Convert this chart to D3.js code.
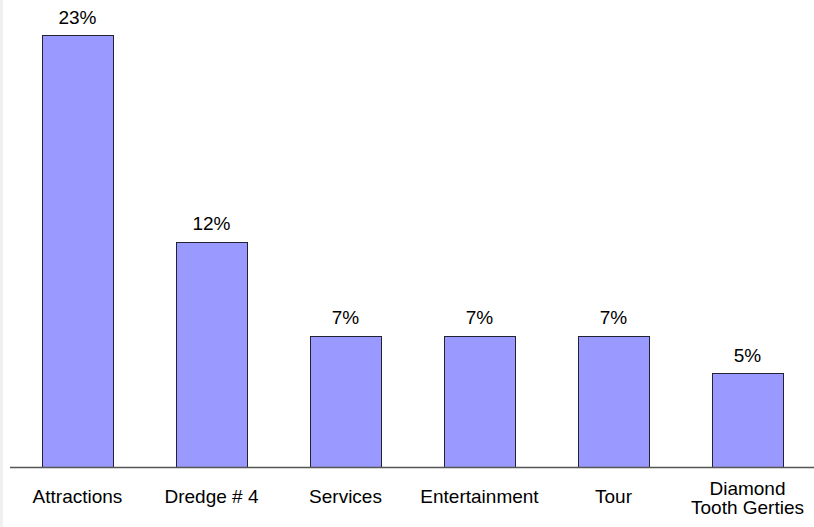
<!DOCTYPE html>
<html>
<head>
<meta charset="utf-8">
<script src="https://cdn.jsdelivr.net/npm/d3@7"></script>
<style>
  html, body { margin: 0; padding: 0; background: #ffffff; }
  svg { display: block; }
  text { font-family: "Liberation Sans", Arial, sans-serif; fill: #000; }
</style>
</head>
<body>
<svg id="chart" width="814" height="527"></svg>
<script>
// Share of responses by category
const categories = ["Attractions", "Dredge # 4", "Services", "Entertainment", "Tour", "Diamond Tooth Gerties"];
const categoryLines = [["Attractions"], ["Dredge # 4"], ["Services"], ["Entertainment"], ["Tour"], ["Diamond", "Tooth Gerties"]];
const values = [23, 12, 7, 7, 7, 5];
const valueLabels = ["23%", "12%", "7%", "7%", "7%", "5%"];

const W = 814, H = 527;
const svg = d3.select("#chart");

// thin grey strip on the left edge
svg.append("rect").attr("x", 0).attr("y", 0).attr("width", 3).attr("height", H).attr("fill", "#f0f0f0");

const baseY = 467.5;
const x = d3.scaleBand().domain(categories).range([10.5, 814.5]).paddingInner(0.47).paddingOuter(0.235);
const y = d3.scaleLinear().domain([0, 23]).range([baseY, 35]);

const data = categories.map((c, i) => ({ c, v: values[i], label: valueLabels[i], lines: categoryLines[i] }));

// bars
svg.append("g").selectAll("rect").data(data).join("rect")
  .attr("x", d => Math.round(x(d.c)) + 0.5)
  .attr("y", d => Math.round(y(d.v)) + 0.5)
  .attr("width", Math.round(x.bandwidth()))
  .attr("height", d => baseY - Math.round(y(d.v)) - 0.5)
  .attr("fill", "#9999ff")
  .attr("stroke", "#222233")
  .attr("stroke-width", 1);

// baseline
svg.append("line")
  .attr("x1", 10).attr("x2", W)
  .attr("y1", baseY).attr("y2", baseY)
  .attr("stroke", "#555").attr("stroke-width", 1.3);

// value labels above bars
svg.append("g").selectAll("text").data(data).join("text")
  .attr("x", d => x(d.c) + x.bandwidth() / 2)
  .attr("y", d => y(d.v) - 11.5)
  .attr("text-anchor", "middle")
  .attr("font-size", "19px")
  .text(d => d.label);

// category labels
const cat = svg.append("g").selectAll("text").data(data).join("text")
  .attr("text-anchor", "middle")
  .attr("font-size", "19px")
  .attr("x", d => x(d.c) + x.bandwidth() / 2)
  .attr("y", d => d.lines.length === 1 ? 502.5 : 495);
cat.selectAll("tspan").data(d => d.lines.map((t, i) => ({ t, i, cx: x(d.c) + x.bandwidth() / 2 }))).join("tspan")
  .attr("x", d => d.cx)
  .attr("dy", d => d.i === 0 ? 0 : 18.5)
  .text(d => d.t);
</script>
</body>
</html>
